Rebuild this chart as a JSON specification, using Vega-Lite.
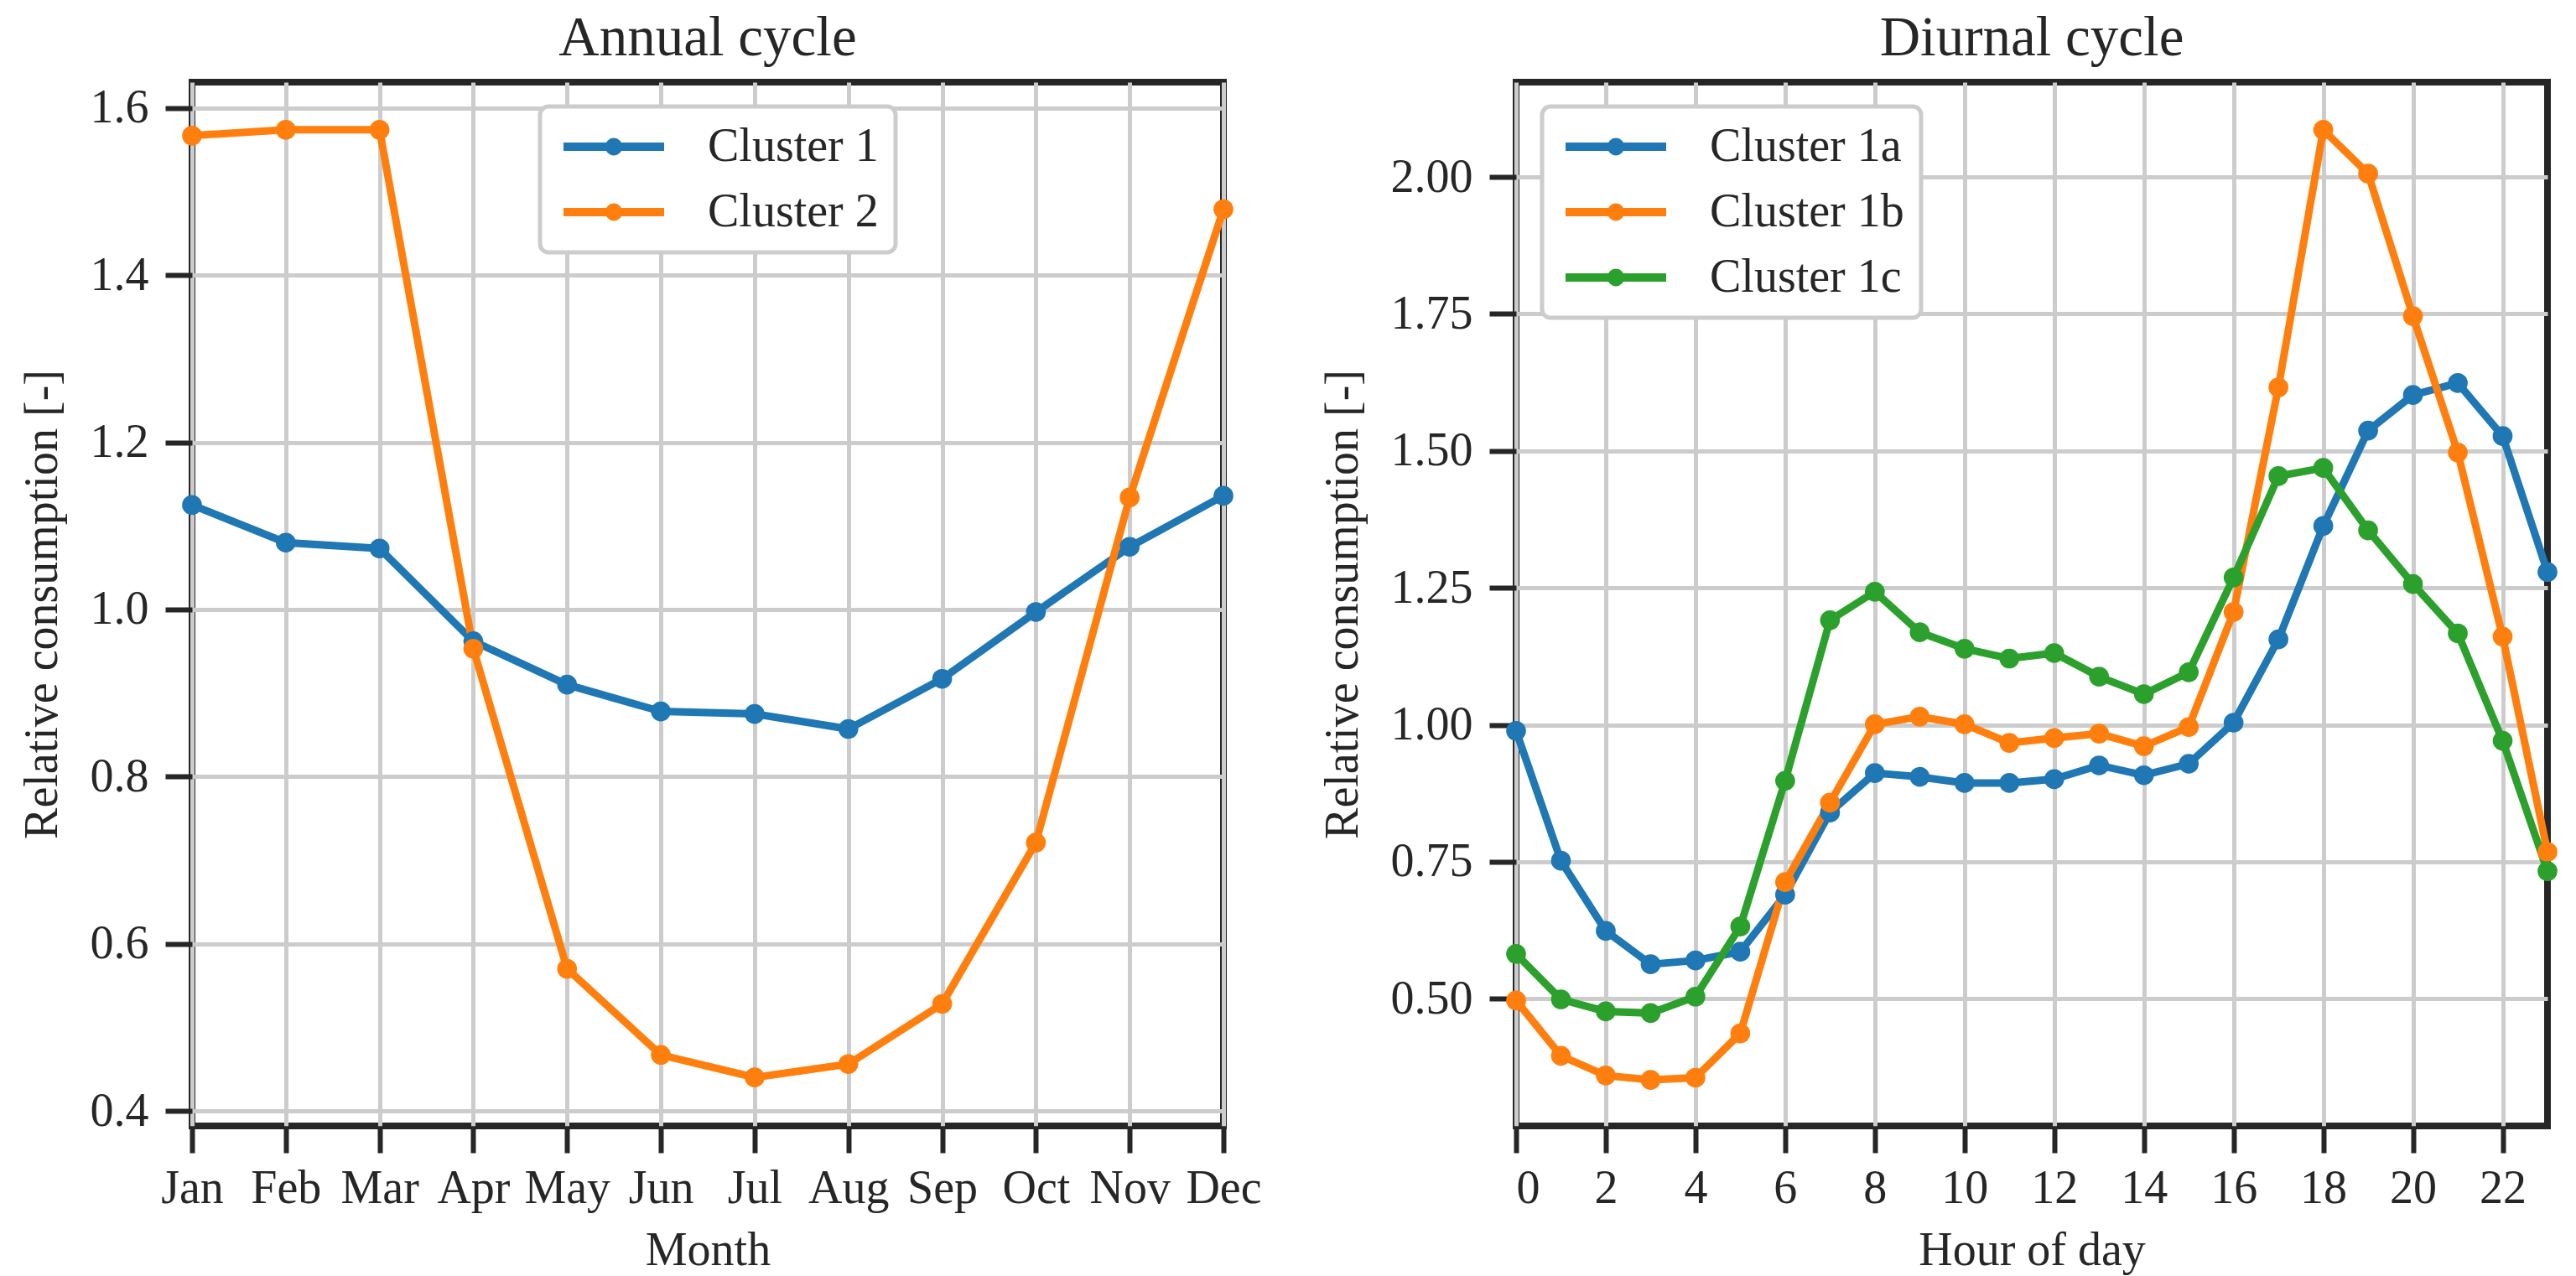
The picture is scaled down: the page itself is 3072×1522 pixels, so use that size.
{
  "$schema": "https://vega.github.io/schema/vega-lite/v6.json",
  "background": "white",
  "padding": {"left": 18, "top": 8, "right": 5, "bottom": 0},
  "spacing": 60,
  "config": {
    "font": "Liberation Serif",
    "view": {"stroke": "#262626", "strokeWidth": 8},
    "axis": {
      "domain": false,
      "grid": true,
      "gridColor": "#cccccc",
      "gridWidth": 5,
      "gridOpacity": 1,
      "tickColor": "#262626",
      "tickWidth": 6,
      "tickSize": 32,
      "labelFont": "Liberation Serif",
      "labelFontSize": 56,
      "labelColor": "#262626",
      "titleFont": "Liberation Serif",
      "titleFontSize": 56,
      "titleFontWeight": "normal",
      "titleColor": "#262626"
    },
    "axisX": {"labelPadding": 15, "titlePadding": 19, "labelAngle": 0},
    "axisY": {"labelPadding": 20, "titlePadding": 28},
    "title": {"font": "Liberation Serif", "fontSize": 67, "fontWeight": "normal", "color": "#262626", "offset": 18},
    "legend": {
      "orient": "none",
      "labelFont": "Liberation Serif",
      "labelFontSize": 56,
      "labelColor": "#262626",
      "labelLimit": 600,
      "symbolType": "M-1,0L5,0M1.73,0A0.27,0.27,0,1,1,2.27,0A0.27,0.27,0,1,1,1.73,0Z",
      "symbolSize": 1600,
      "symbolStrokeWidth": 10,
      "labelOffset": 124,
      "padding": 20,
      "rowPadding": 22,
      "strokeColor": "#cccccc",
      "strokeWidth": 5,
      "cornerRadius": 10,
      "fillColor": "white"
    }
  },
  "resolve": {"scale": {"color": "independent"}, "legend": {"color": "independent"}},
  "hconcat": [
    {
      "width": 1230,
      "height": 1245,
      "title": "Annual cycle",
      "data": {"values": [
        {"month": "Jan", "series": "Cluster 1", "value": 1.125},
        {"month": "Feb", "series": "Cluster 1", "value": 1.080},
        {"month": "Mar", "series": "Cluster 1", "value": 1.073},
        {"month": "Apr", "series": "Cluster 1", "value": 0.962},
        {"month": "May", "series": "Cluster 1", "value": 0.910},
        {"month": "Jun", "series": "Cluster 1", "value": 0.878},
        {"month": "Jul", "series": "Cluster 1", "value": 0.875},
        {"month": "Aug", "series": "Cluster 1", "value": 0.857},
        {"month": "Sep", "series": "Cluster 1", "value": 0.917},
        {"month": "Oct", "series": "Cluster 1", "value": 0.997},
        {"month": "Nov", "series": "Cluster 1", "value": 1.075},
        {"month": "Dec", "series": "Cluster 1", "value": 1.136},
        {"month": "Jan", "series": "Cluster 2", "value": 1.567},
        {"month": "Feb", "series": "Cluster 2", "value": 1.574},
        {"month": "Mar", "series": "Cluster 2", "value": 1.574},
        {"month": "Apr", "series": "Cluster 2", "value": 0.953},
        {"month": "May", "series": "Cluster 2", "value": 0.570},
        {"month": "Jun", "series": "Cluster 2", "value": 0.467},
        {"month": "Jul", "series": "Cluster 2", "value": 0.440},
        {"month": "Aug", "series": "Cluster 2", "value": 0.456},
        {"month": "Sep", "series": "Cluster 2", "value": 0.528},
        {"month": "Oct", "series": "Cluster 2", "value": 0.721},
        {"month": "Nov", "series": "Cluster 2", "value": 1.134},
        {"month": "Dec", "series": "Cluster 2", "value": 1.479}
      ]},
      "encoding": {
        "x": {
          "field": "month", "type": "ordinal",
          "sort": ["Jan","Feb","Mar","Apr","May","Jun","Jul","Aug","Sep","Oct","Nov","Dec"],
          "scale": {"type": "point", "padding": 0},
          "axis": {"title": "Month"}
        },
        "y": {
          "field": "value", "type": "quantitative",
          "scale": {"domain": [0.382, 1.631], "nice": false, "zero": false},
          "axis": {"title": "Relative consumption [-]", "values": [0.4, 0.6, 0.8, 1.0, 1.2, 1.4, 1.6], "format": ".1f"}
        },
        "color": {
          "field": "series", "type": "nominal",
          "scale": {"domain": ["Cluster 1", "Cluster 2"], "range": ["#1f77b4", "#ff7f0e"]},
          "legend": {"title": null, "legendX": 415, "legendY": 29}
        }
      },
      "layer": [
        {"mark": {"type": "line", "strokeWidth": 9}},
        {"mark": {"type": "point", "filled": true, "size": 560, "opacity": 1}}
      ]
    },
    {
      "width": 1230,
      "height": 1245,
      "title": "Diurnal cycle",
      "data": {"values": [
        {"hour": 0, "series": "Cluster 1a", "value": 0.989},
        {"hour": 1, "series": "Cluster 1a", "value": 0.752},
        {"hour": 2, "series": "Cluster 1a", "value": 0.624},
        {"hour": 3, "series": "Cluster 1a", "value": 0.563},
        {"hour": 4, "series": "Cluster 1a", "value": 0.570},
        {"hour": 5, "series": "Cluster 1a", "value": 0.586},
        {"hour": 6, "series": "Cluster 1a", "value": 0.690},
        {"hour": 7, "series": "Cluster 1a", "value": 0.840},
        {"hour": 8, "series": "Cluster 1a", "value": 0.912},
        {"hour": 9, "series": "Cluster 1a", "value": 0.905},
        {"hour": 10, "series": "Cluster 1a", "value": 0.894},
        {"hour": 11, "series": "Cluster 1a", "value": 0.894},
        {"hour": 12, "series": "Cluster 1a", "value": 0.901},
        {"hour": 13, "series": "Cluster 1a", "value": 0.926},
        {"hour": 14, "series": "Cluster 1a", "value": 0.908},
        {"hour": 15, "series": "Cluster 1a", "value": 0.929},
        {"hour": 16, "series": "Cluster 1a", "value": 1.004},
        {"hour": 17, "series": "Cluster 1a", "value": 1.156},
        {"hour": 18, "series": "Cluster 1a", "value": 1.363},
        {"hour": 19, "series": "Cluster 1a", "value": 1.537},
        {"hour": 20, "series": "Cluster 1a", "value": 1.602},
        {"hour": 21, "series": "Cluster 1a", "value": 1.624},
        {"hour": 22, "series": "Cluster 1a", "value": 1.527},
        {"hour": 23, "series": "Cluster 1a", "value": 1.279},
        {"hour": 0, "series": "Cluster 1b", "value": 0.497},
        {"hour": 1, "series": "Cluster 1b", "value": 0.396},
        {"hour": 2, "series": "Cluster 1b", "value": 0.360},
        {"hour": 3, "series": "Cluster 1b", "value": 0.352},
        {"hour": 4, "series": "Cluster 1b", "value": 0.356},
        {"hour": 5, "series": "Cluster 1b", "value": 0.437},
        {"hour": 6, "series": "Cluster 1b", "value": 0.713},
        {"hour": 7, "series": "Cluster 1b", "value": 0.858},
        {"hour": 8, "series": "Cluster 1b", "value": 1.001},
        {"hour": 9, "series": "Cluster 1b", "value": 1.015},
        {"hour": 10, "series": "Cluster 1b", "value": 1.001},
        {"hour": 11, "series": "Cluster 1b", "value": 0.967},
        {"hour": 12, "series": "Cluster 1b", "value": 0.976},
        {"hour": 13, "series": "Cluster 1b", "value": 0.984},
        {"hour": 14, "series": "Cluster 1b", "value": 0.961},
        {"hour": 15, "series": "Cluster 1b", "value": 0.996},
        {"hour": 16, "series": "Cluster 1b", "value": 1.206},
        {"hour": 17, "series": "Cluster 1b", "value": 1.616},
        {"hour": 18, "series": "Cluster 1b", "value": 2.086},
        {"hour": 19, "series": "Cluster 1b", "value": 2.006},
        {"hour": 20, "series": "Cluster 1b", "value": 1.746},
        {"hour": 21, "series": "Cluster 1b", "value": 1.497},
        {"hour": 22, "series": "Cluster 1b", "value": 1.161},
        {"hour": 23, "series": "Cluster 1b", "value": 0.768},
        {"hour": 0, "series": "Cluster 1c", "value": 0.582},
        {"hour": 1, "series": "Cluster 1c", "value": 0.499},
        {"hour": 2, "series": "Cluster 1c", "value": 0.477},
        {"hour": 3, "series": "Cluster 1c", "value": 0.474},
        {"hour": 4, "series": "Cluster 1c", "value": 0.504},
        {"hour": 5, "series": "Cluster 1c", "value": 0.632},
        {"hour": 6, "series": "Cluster 1c", "value": 0.898},
        {"hour": 7, "series": "Cluster 1c", "value": 1.191},
        {"hour": 8, "series": "Cluster 1c", "value": 1.243},
        {"hour": 9, "series": "Cluster 1c", "value": 1.169},
        {"hour": 10, "series": "Cluster 1c", "value": 1.139},
        {"hour": 11, "series": "Cluster 1c", "value": 1.121},
        {"hour": 12, "series": "Cluster 1c", "value": 1.131},
        {"hour": 13, "series": "Cluster 1c", "value": 1.088},
        {"hour": 14, "series": "Cluster 1c", "value": 1.056},
        {"hour": 15, "series": "Cluster 1c", "value": 1.096},
        {"hour": 16, "series": "Cluster 1c", "value": 1.269},
        {"hour": 17, "series": "Cluster 1c", "value": 1.454},
        {"hour": 18, "series": "Cluster 1c", "value": 1.469},
        {"hour": 19, "series": "Cluster 1c", "value": 1.355},
        {"hour": 20, "series": "Cluster 1c", "value": 1.257},
        {"hour": 21, "series": "Cluster 1c", "value": 1.167},
        {"hour": 22, "series": "Cluster 1c", "value": 0.971},
        {"hour": 23, "series": "Cluster 1c", "value": 0.733}
      ]},
      "encoding": {
        "x": {
          "field": "hour", "type": "quantitative",
          "scale": {"domain": [0, 23], "nice": false, "zero": false},
          "axis": {"title": "Hour of day", "values": [0, 2, 4, 6, 8, 10, 12, 14, 16, 18, 20, 22], "format": "d"}
        },
        "y": {
          "field": "value", "type": "quantitative",
          "scale": {"domain": [0.268, 2.173], "nice": false, "zero": false},
          "axis": {"title": "Relative consumption [-]", "values": [0.5, 0.75, 1.0, 1.25, 1.5, 1.75, 2.0], "format": ".2f"}
        },
        "color": {
          "field": "series", "type": "nominal",
          "scale": {"domain": ["Cluster 1a", "Cluster 1b", "Cluster 1c"], "range": ["#1f77b4", "#ff7f0e", "#2ca02c"]},
          "legend": {"title": null, "legendX": 31, "legendY": 29}
        }
      },
      "layer": [
        {"mark": {"type": "line", "strokeWidth": 9}},
        {"mark": {"type": "point", "filled": true, "size": 560, "opacity": 1}}
      ]
    }
  ]
}
